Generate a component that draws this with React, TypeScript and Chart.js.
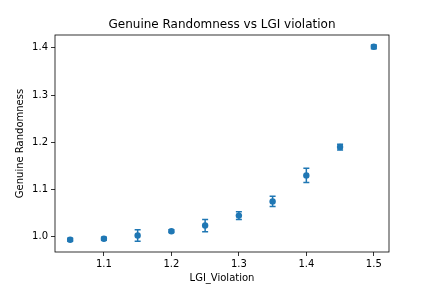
import React, { useEffect, useRef } from "react";
import { Chart, registerables } from "chart.js";

Chart.register(...registerables);

const xValues = [1.05, 1.1, 1.15, 1.2, 1.25, 1.3, 1.35, 1.4, 1.45, 1.5];
const yValues = [0.994, 0.996, 1.003, 1.012, 1.024, 1.045, 1.075, 1.13, 1.19, 1.402];
const yErrors = [0.003, 0.003, 0.012, 0.003, 0.013, 0.008, 0.011, 0.015, 0.006, 0.004];
const xTicks = [1.1, 1.2, 1.3, 1.4, 1.5];
const yTicks = [1.0, 1.1, 1.2, 1.3, 1.4];

const COLOR = "#1f77b4";
const FONT = "'DejaVu Sans', sans-serif";

const errorBarPlugin = {
  id: "errorBars",
  beforeDatasetsDraw(chart: any) {
    const ctx = chart.ctx;
    const xs = chart.scales.x;
    const ys = chart.scales.y;
    ctx.save();
    ctx.strokeStyle = COLOR;
    ctx.lineWidth = 1.5;
    for (let i = 0; i < xValues.length; i++) {
      const px = xs.getPixelForValue(xValues[i]);
      const top = ys.getPixelForValue(yValues[i] + yErrors[i]);
      const bot = ys.getPixelForValue(yValues[i] - yErrors[i]);
      ctx.beginPath();
      ctx.moveTo(px, top);
      ctx.lineTo(px, bot);
      ctx.moveTo(px - 3, top);
      ctx.lineTo(px + 3, top);
      ctx.moveTo(px - 3, bot);
      ctx.lineTo(px + 3, bot);
      ctx.stroke();
    }
    ctx.restore();
  },
};

const framePlugin = {
  id: "frame",
  afterDraw(chart: any) {
    const { ctx, chartArea } = chart;
    ctx.save();
    ctx.strokeStyle = "#000";
    ctx.lineWidth = 0.8;
    ctx.strokeRect(chartArea.left, chartArea.top, chartArea.right - chartArea.left, chartArea.bottom - chartArea.top);
    ctx.restore();
  },
};

export default function App() {
  const ref = useRef<HTMLCanvasElement>(null);
  useEffect(() => {
    if (!ref.current) return;
    const chart = new Chart(ref.current, {
      type: "scatter",
      data: {
        datasets: [
          {
            data: xValues.map((x, i) => ({ x, y: yValues[i] })),
            backgroundColor: COLOR,
            borderColor: COLOR,
            pointRadius: 3.2,
            borderWidth: 0,
          },
        ],
      },
      options: {
        responsive: false,
        animation: false,
        layout: { padding: { left: 0, right: 43, top: 0, bottom: 0 } },
        plugins: {
          legend: { display: false },
          tooltip: { enabled: false },
          title: {
            display: true,
            text: "Genuine Randomness vs LGI violation",
            fullSize: false,
            color: "#000",
            font: { family: FONT, size: 12, weight: "normal" },
            padding: { top: 18, bottom: 2.6 },
          },
        },
        scales: {
          x: {
            type: "linear",
            min: 1.0275,
            max: 1.5225,
            afterFit: (s: any) => { s.height = 36; },
            afterBuildTicks: (s: any) => { s.ticks = xTicks.map((v) => ({ value: v })); },
            ticks: {
              color: "#000",
              font: { family: FONT, size: 10 },
              padding: 2,
              maxRotation: 0,
              autoSkip: false,
              callback: (v: any) => Number(v).toFixed(1),
            },
            grid: { drawOnChartArea: false, tickLength: 4, color: "#000", lineWidth: 0.8 },
            border: { display: false },
            title: {
              display: true,
              text: "LGI_Violation",
              color: "#000",
              font: { family: FONT, size: 10 },
              padding: { top: 0, bottom: 4 },
            },
          },
          y: {
            type: "linear",
            min: 0.968,
            max: 1.427,
            afterFit: (s: any) => { s.width = 55; },
            afterBuildTicks: (s: any) => { s.ticks = yTicks.map((v) => ({ value: v })); },
            ticks: {
              color: "#000",
              font: { family: FONT, size: 10 },
              padding: 3,
              autoSkip: false,
              callback: (v: any) => Number(v).toFixed(1),
            },
            grid: { drawOnChartArea: false, tickLength: 4, color: "#000", lineWidth: 0.8 },
            border: { display: false },
            title: {
              display: true,
              text: "Genuine Randomness",
              color: "#000",
              font: { family: FONT, size: 10 },
              padding: { top: 14, bottom: 0 },
            },
          },
        },
      },
      plugins: [errorBarPlugin, framePlugin],
    } as any);
    return () => chart.destroy();
  }, []);
  return (
    <div style={{ position: "absolute", left: 0, top: 0, width: 432, height: 288, background: "#fff" }}>
      <canvas ref={ref} width={432} height={288} style={{ display: "block" }} />
    </div>
  );
}
